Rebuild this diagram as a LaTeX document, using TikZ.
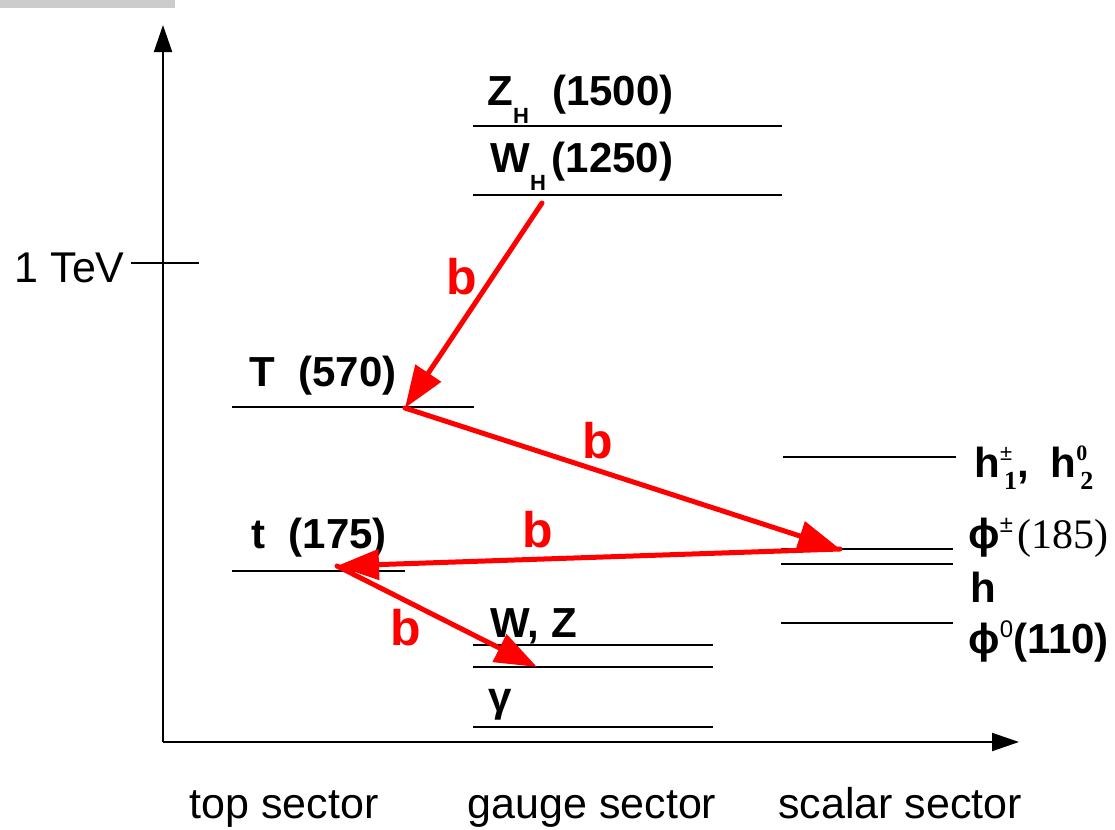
\documentclass[tikz,border=0pt]{standalone}
\usepackage{fontspec}
\setmainfont{Liberation Sans}
\newfontfamily\serifnum{Liberation Serif}
\usetikzlibrary{arrows.meta}
\newcommand\lowsub[1]{\raisebox{-9pt}{\fontsize{11}{12}\selectfont #1}}
\newcommand\upsup[1]{\raisebox{8pt}{\fontsize{12}{12}\selectfont\mdseries #1}}
\newcommand\supsub[2]{\rlap{\raisebox{8.5pt}{\fontsize{11}{12}\selectfont #1}}\kern2pt\raisebox{-6pt}{\fontsize{13}{14}\selectfont\serifnum #2}}

\begin{document}
\begin{tikzpicture}[
  x=0.5pt,
  y=-0.5pt,
  level/.style={line width=1pt},
  axisline/.style={line width=1pt, -{Triangle[length=13.5pt,width=9pt]}},
  decay/.style={draw=red, line width=2.5pt, line cap=round, -{Triangle[length=21pt,width=15pt]}},
  statelabel/.style={font=\bfseries\fontsize{21}{24}\selectfont, inner sep=0pt, anchor=base west},
  blabel/.style={font=\bfseries\fontsize{25}{28}\selectfont, text=red, inner sep=0pt},
  sectorlabel/.style={font=\fontsize{21.5}{24}\selectfont, inner sep=0pt, anchor=base}
]
\useasboundingbox (0,0) rectangle (1115,830);
\path[fill=black!20] (0,0) rectangle (175,8);

% axes
\coordinate (origin) at (163,742);
\coordinate (ytop) at (163,25);
\coordinate (xend) at (1019,742);
\draw[axisline] (origin) -- (ytop);
\draw[axisline] (origin) -- (xend);
\node[sectorlabel, anchor=base east] (tev) at (125,282) {1 TeV};
\draw[level] (131,263) -- (199,263);

% mass levels
\draw[level] (473,126) -- (782,126);
\draw[level] (473,195) -- (782,195);
\draw[level] (232,407) -- (474,407);
\draw[level] (232,571) -- (405,571);
\foreach \y in {645,667,727} \draw[level] (473,\y) -- (713,\y);
\draw[level] (783,457) -- (956,457);
\foreach \y in {549,564,623} \draw[level] (781,\y) -- (953,\y);

\node[statelabel] (zh) at (487,105) {Z\lowsub{H}~~(1500)};
\node[statelabel] (wh) at (490,172) {W\lowsub{H}\kern3pt(1250)};
\node[statelabel] (T) at (249,386) {T~~(570)};
\node[statelabel] (t) at (251,548) {t~~(175)};
\node[statelabel] (wz) at (490,637) {W, Z};
\node[statelabel] (gam) at (488,711) {γ};
\node[statelabel] (hpm) at (974,477) {h\supsub{\mdseries±}{1},\hspace{11pt}h\supsub{\serifnum 0}{2}};
\node[statelabel] (phipm) at (968,548) {ϕ\upsup{±}\hspace{2pt}{\serifnum\mdseries\fontsize{21}{24}\selectfont(185)}};
\node[statelabel] (hh) at (970,602) {h};
\node[statelabel] (phi0) at (968,653) {ϕ\upsup{0}(110)};

% decays
\coordinate (whfoot) at (542,203);
\coordinate (Tdot) at (405,408);
\coordinate (phidot) at (840,549);
\coordinate (tdot) at (337,566);
\coordinate (wzdot) at (537,667);
\draw[decay] (whfoot) -- (Tdot);
\draw[decay] (Tdot) -- (phidot);
\draw[decay] (phidot) -- (tdot);
\draw[decay] (tdot) -- (wzdot);
\node[blabel] (b1) at (462,277) {b};
\node[blabel] (b2) at (598,441) {b};
\node[blabel] (b3) at (538,530) {b};
\node[blabel] (b4) at (406,628) {b};

\node[sectorlabel] (top) at (284,818) {top sector};
\node[sectorlabel] (gauge) at (592,818) {gauge sector};
\node[sectorlabel] (scalar) at (900,818) {scalar sector};
\end{tikzpicture}
\end{document}
